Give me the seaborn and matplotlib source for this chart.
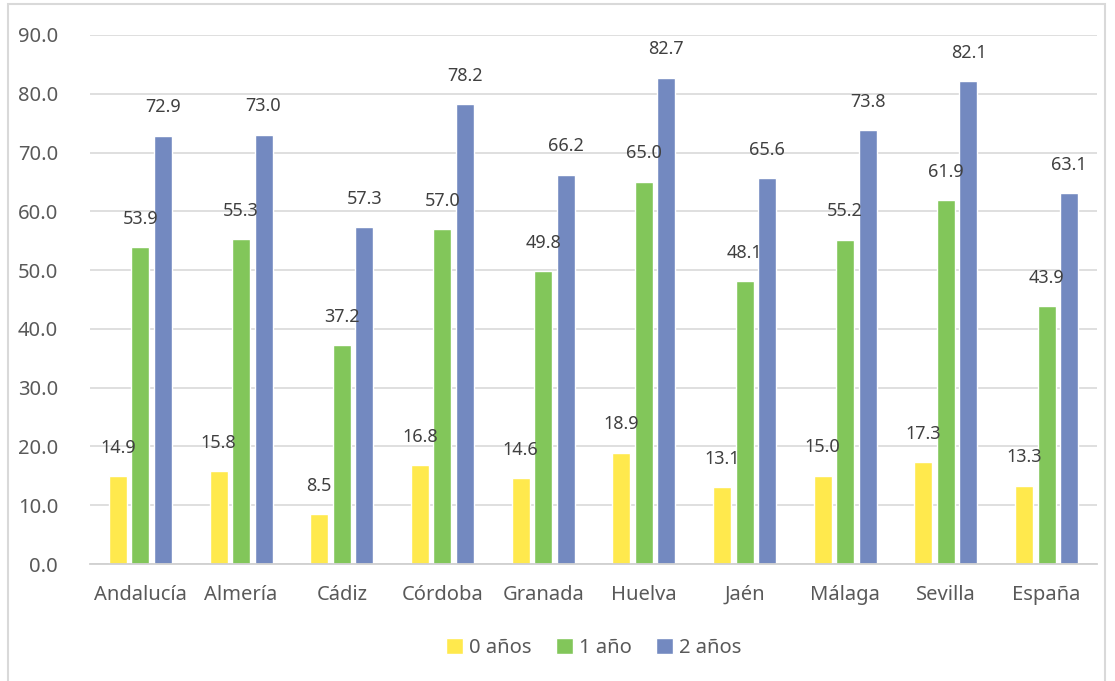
import numpy as np
import pandas as pd
import seaborn as sns
import matplotlib
matplotlib.use("Agg")
import matplotlib.pyplot as plt
from matplotlib.patches import Rectangle

provincias = ["Andalucía", "Almería", "Cádiz", "Córdoba", "Granada",
              "Huelva", "Jaén", "Málaga", "Sevilla", "España"]
edad_0 = [14.9, 15.8, 8.5, 16.8, 14.6, 18.9, 13.1, 15.0, 17.3, 13.3]
edad_1 = [53.9, 55.3, 37.2, 57.0, 49.8, 65.0, 48.1, 55.2, 61.9, 43.9]
edad_2 = [72.9, 73.0, 57.3, 78.2, 66.2, 82.7, 65.6, 73.8, 82.1, 63.1]
series = ["0 años", "1 año", "2 años"]
colores = ["#FFE94D", "#82C65A", "#7389C0"]

df = pd.DataFrame({
    "provincia": provincias * 3,
    "serie": [series[0]] * 10 + [series[1]] * 10 + [series[2]] * 10,
    "valor": edad_0 + edad_1 + edad_2,
})

sns.set_style("white")
plt.rcParams["font.family"] = ["Noto Sans", "DejaVu Sans"]

fig = plt.figure(figsize=(11.15, 6.81), dpi=100)
ax = fig.add_axes([90 / 1115, 1 - 564 / 681, (1097 - 90) / 1115, 529 / 681])

sns.barplot(data=df, x="provincia", y="valor", hue="serie", palette=colores,
            width=0.67, gap=0.2, saturation=1, ax=ax, legend=True)

for cont in ax.containers:
    ax.bar_label(cont, fmt="%.1f", padding=14, fontsize=13, color="#404040")

ax.set_ylim(0, 90)
ax.set_yticks(np.arange(0, 91, 10))
ax.set_yticklabels(["%.1f" % v for v in np.arange(0, 91, 10)])
ax.set_xlim(-0.5, 9.5)
ax.yaxis.grid(True, color="#D9D9D9", lw=1.2)
ax.set_axisbelow(True)
for s in ["top", "right", "left"]:
    ax.spines[s].set_visible(False)
ax.spines["bottom"].set_color("#D0D0D0")
ax.spines["bottom"].set_linewidth(1.3)
ax.tick_params(axis="y", length=0, pad=23, labelsize=14.5, labelcolor="#595959")
ax.tick_params(axis="x", length=0, pad=15, labelsize=14.5, labelcolor="#595959")
ax.set_xlabel("")
ax.set_ylabel("")

ax.legend(loc="upper center", bbox_to_anchor=(0.5, -0.105), ncol=3, frameon=False,
          fontsize=14.5, labelcolor="#595959", handlelength=0.85, handleheight=0.85,
          handletextpad=0.3, columnspacing=1.2)

fig.patches.append(Rectangle((8 / 1115, -0.01), (1105 - 8) / 1115, 1 - 4 / 681 + 0.01,
                             transform=fig.transFigure, fill=False,
                             edgecolor="#D9D9D9", lw=1.5))

fig.savefig("out.png", dpi=100)
